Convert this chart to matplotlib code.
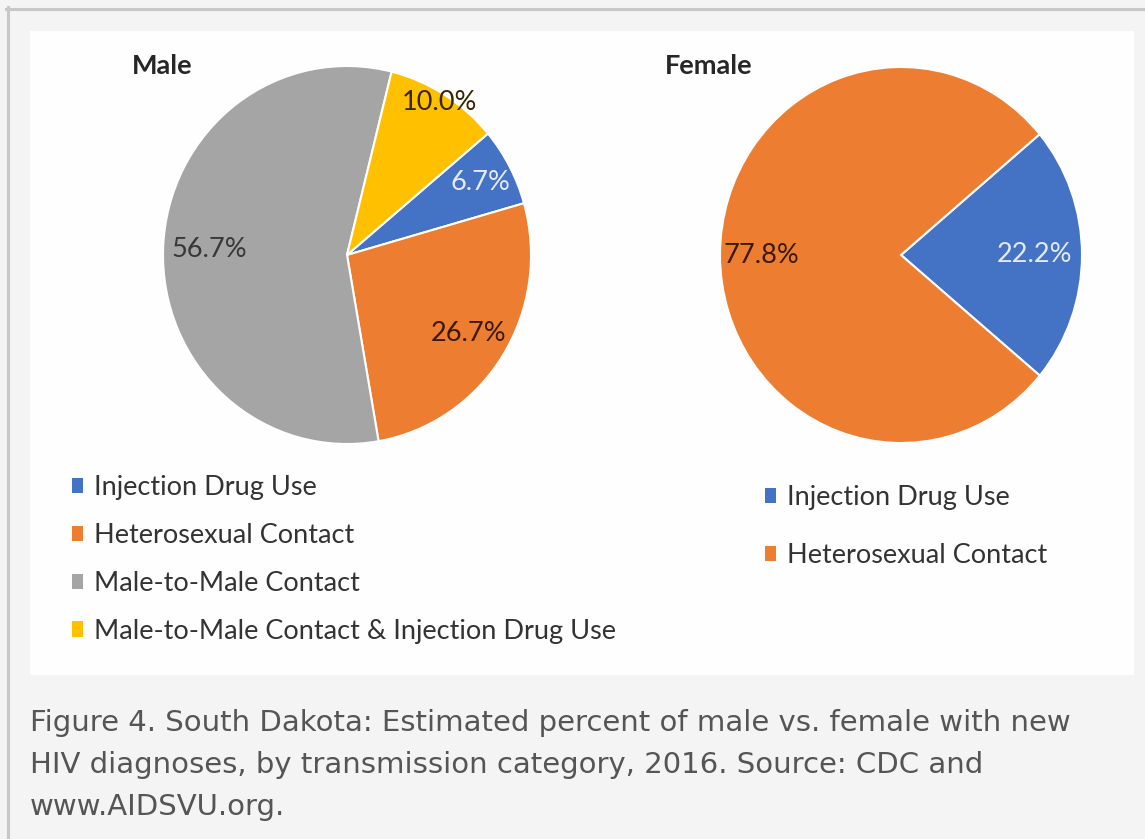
import matplotlib.pyplot as plt
from matplotlib.patches import Rectangle, Patch
from matplotlib.lines import Line2D

# Данные
categories = ['Injection Drug Use', 'Heterosexual Contact', 'Male-to-Male Contact',
              'Male-to-Male Contact & Injection Drug Use']
male_values = [6.7, 26.7, 56.7, 10.0]
female_categories = ['Injection Drug Use', 'Heterosexual Contact']
female_values = [22.2, 77.8]
caption_lines = [
    'Figure 4. South Dakota: Estimated percent of male vs. female with new',
    'HIV diagnoses, by transmission category, 2016. Source: CDC and',
    'www.AIDSVU.org.',
]

colors = ['#4472C4', '#ED7D31', '#A5A5A5', '#FFC000']
W, H = 1145, 839
CHART_FONT = ['Lato', 'DejaVu Sans']


def fx(px):
    return px / W


def fy(py):
    return 1 - py / H


def draw_pie(ax, values, cols, dists, label_colors):
    wedges, _, autotexts = ax.pie(values, colors=cols, startangle=40, counterclock=False,
                                  autopct='%.1f%%', pctdistance=1.0,
                                  wedgeprops=dict(edgecolor='white', linewidth=1.5),
                                  textprops=dict(fontsize=19.5, family=CHART_FONT))
    # подписи — исходные значения (сумма у Male = 100.1)
    for t, v, d, c in zip(autotexts, values, dists, label_colors):
        x, y = t.get_position()
        t.set_position((x * d, y * d))
        t.set_text(f'{v:.1f}%')
        t.set_color(c)
    ax.set_aspect('auto')
    ax.set_xlim(-1, 1)
    ax.set_ylim(-1, 1)
    ax.axis('off')


fig = plt.figure(figsize=(W / 100, H / 100), dpi=100, facecolor='#f4f4f4')

# рамка страницы и белая панель (под осями)
fig.add_artist(Line2D([fx(6), 1], [fy(8.5), fy(8.5)], color='#c8c8c8', linewidth=2.2,
                      zorder=-5))
fig.add_artist(Line2D([fx(7.5), fx(7.5)], [fy(7), 0], color='#c8c8c8', linewidth=2.2,
                      zorder=-5))
fig.add_artist(Rectangle((fx(30), fy(675)), fx(1104), 644 / H, facecolor='#fefefe',
                         edgecolor='none', zorder=-6))

# Male
cx, cy, rx, ry = 347, 255, 184, 189
ax1 = fig.add_axes([fx(cx - rx), fy(cy + ry), 2 * rx / W, 2 * ry / H])
draw_pie(ax1, male_values, colors, [0.82, 0.78, 0.75, 0.95],
         ['#e4ebf7', '#3a1a06', '#383838', '#332600'])
fig.text(fx(132), fy(66), 'Male', fontsize=19.5, fontweight='bold', color='#262626',
         family=CHART_FONT, va='center', ha='left')

# Female
cx, cy, rx, ry = 901, 255, 181, 188
ax2 = fig.add_axes([fx(cx - rx), fy(cy + ry), 2 * rx / W, 2 * ry / H])
draw_pie(ax2, female_values, colors[:2], [0.74, 0.77], ['#e4ebf7', '#3a1a06'])
fig.text(fx(665), fy(66), 'Female', fontsize=19.5, fontweight='bold', color='#262626',
         family=CHART_FONT, va='center', ha='left')

# легенды
male_handles = [Patch(facecolor=c, edgecolor='none') for c in colors]
fig.legend(male_handles, categories, loc='upper left', bbox_to_anchor=(fx(48), fy(451)),
           bbox_transform=fig.transFigure, frameon=False, handlelength=0.4,
           handleheight=0.5, handletextpad=0.4, labelspacing=0.84,
           prop=dict(family=CHART_FONT, size=19.5), labelcolor='#333333')
fig.legend(male_handles[:2], female_categories, loc='upper left',
           bbox_to_anchor=(fx(741), fy(461)), bbox_transform=fig.transFigure,
           frameon=False, handlelength=0.4, handleheight=0.5, handletextpad=0.4,
           labelspacing=1.2, prop=dict(family=CHART_FONT, size=19.5), labelcolor='#333333')

# подпись
for i, line in enumerate(caption_lines):
    fig.text(fx(30), fy(723 + 42 * i), line, fontsize=21, color='#555555',
             family='DejaVu Sans', va='center', ha='left')

plt.savefig('out.png', dpi=100, facecolor=fig.get_facecolor())
plt.close(fig)
